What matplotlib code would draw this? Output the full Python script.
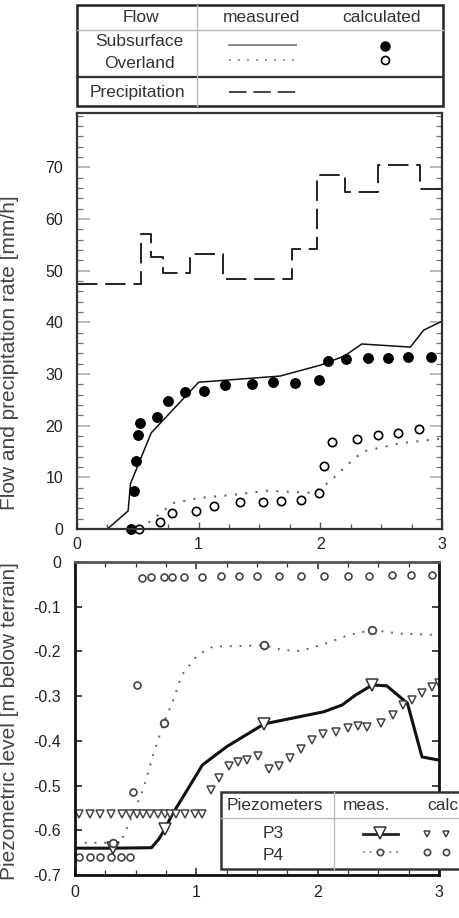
import matplotlib as mpl
mpl.use('Agg')

import matplotlib.pyplot as plt
from matplotlib.patches import Rectangle
from matplotlib.ticker import MultipleLocator

plt.rcParams['font.family'] = ['Liberation Sans', 'DejaVu Sans']

# ---- flow panel data (time in h, rates in mm/h) ----
precip_edges = [0.0, 0.53, 0.61, 0.71, 0.925, 1.2, 1.77, 1.97, 2.2, 2.47, 2.82, 3.0]
precip_rate = [47.5, 57.0, 52.7, 49.6, 53.3, 48.4, 54.1, 68.5, 65.3, 70.4, 65.7]

sub_meas_t = [0.25, 0.42, 0.44, 0.61, 1.0, 1.67, 2.0, 2.2, 2.34, 2.74, 2.85, 3.0]
sub_meas_q = [0.0, 3.5, 8.8, 18.6, 28.4, 29.6, 31.7, 33.5, 35.8, 35.2, 38.5, 40.2]

over_meas_t = [0.52, 0.63, 0.79, 1.0, 1.28, 1.56, 1.94, 2.08, 2.22, 2.35, 2.66, 3.0]
over_meas_q = [0.0, 2.0, 5.0, 6.0, 6.6, 7.4, 7.0, 9.2, 12.4, 15.0, 16.6, 17.5]

sub_calc_t = [0.445, 0.47, 0.485, 0.50, 0.52, 0.66, 0.75, 0.89, 1.04, 1.22, 1.44,
              1.61, 1.79, 1.99, 2.06, 2.21, 2.39, 2.56, 2.72, 2.91]
sub_calc_q = [0.0, 7.4, 13.2, 18.2, 20.6, 21.6, 24.7, 26.5, 26.8, 27.9, 28.1,
              28.4, 28.3, 28.8, 32.6, 32.8, 33.0, 33.0, 33.3, 33.3]

over_calc_t = [0.51, 0.68, 0.78, 0.975, 1.13, 1.34, 1.53, 1.68, 1.84, 1.99, 2.03,
               2.10, 2.30, 2.47, 2.64, 2.81]
over_calc_q = [0.0, 1.4, 3.0, 3.5, 4.5, 5.3, 5.3, 5.5, 5.6, 6.9, 12.2,
               16.9, 17.5, 18.2, 18.5, 19.3]

# ---- piezometer panel data (m below terrain) ----
p3_meas_t = [0.0, 0.31, 0.63, 0.69, 0.74, 0.80, 0.90, 1.05, 1.25, 1.56, 1.85, 2.05,
             2.20, 2.31, 2.45, 2.57, 2.74, 2.86, 3.0]
p3_meas_h = [-0.64, -0.64, -0.639, -0.62, -0.598, -0.565, -0.521, -0.454, -0.413, -0.362,
             -0.346, -0.335, -0.320, -0.298, -0.275, -0.277, -0.316, -0.436, -0.443]
p3_mark = [1, 4, 9, 14]

p4_meas_t = [0.0, 0.31, 0.40, 0.48, 0.56, 0.64, 0.73, 0.81, 0.88, 1.01, 1.14, 1.36,
             1.56, 1.71, 1.86, 2.07, 2.26, 2.45, 2.67, 2.97]
p4_meas_h = [-0.628, -0.628, -0.614, -0.562, -0.510, -0.435, -0.361, -0.309, -0.253,
             -0.208, -0.189, -0.188, -0.186, -0.197, -0.199, -0.182, -0.163, -0.152,
             -0.160, -0.163]
p4_mark = [1, 6, 12, 17]

p3_calc_t = [0.035, 0.12, 0.21, 0.30, 0.39, 0.45, 0.51, 0.56, 0.62, 0.68, 0.74, 0.78,
             0.83, 0.91, 0.99, 1.05, 1.12, 1.19, 1.27, 1.34, 1.42, 1.51, 1.60, 1.68,
             1.77, 1.86, 1.95, 2.04, 2.15, 2.25, 2.33, 2.41, 2.52, 2.62, 2.70, 2.78,
             2.86, 2.94, 3.0]
p3_calc_h = [-0.564, -0.564, -0.564, -0.564, -0.564, -0.564, -0.564, -0.564, -0.564,
             -0.564, -0.564, -0.564, -0.564, -0.564, -0.564, -0.564, -0.510, -0.482,
             -0.456, -0.447, -0.442, -0.433, -0.462, -0.456, -0.439, -0.418, -0.398,
             -0.385, -0.380, -0.372, -0.366, -0.368, -0.359, -0.342, -0.320, -0.309,
             -0.292, -0.279, -0.271]

p4_calc_t = [0.035, 0.12, 0.21, 0.30, 0.38, 0.45, 0.477, 0.51, 0.556, 0.63, 0.73, 0.80,
             0.90, 1.05, 1.20, 1.35, 1.50, 1.68, 1.86, 2.05, 2.25, 2.42, 2.61, 2.77, 2.94]
p4_calc_h = [-0.659, -0.659, -0.659, -0.659, -0.659, -0.659, -0.514, -0.275, -0.035,
             -0.034, -0.033, -0.033, -0.033, -0.033, -0.032, -0.032, -0.032, -0.032,
             -0.031, -0.031, -0.031, -0.031, -0.030, -0.030, -0.030]


def main():
    fig = plt.figure(figsize=(4.6, 9.18), dpi=100)

    # upper panel
    ax1 = fig.add_axes([77 / 460, 1 - 529 / 918, 365 / 460, 416 / 918])
    ax1.step(precip_edges, precip_rate + [precip_rate[-1]], where='post',
             color='#222222', lw=1.4, dashes=(10.5, 4))
    ax1.plot(sub_meas_t, sub_meas_q, color='#111111', lw=1.1)
    ax1.plot(over_meas_t, over_meas_q, color='#666666', lw=1.5, linestyle=(0, (1, 4)))
    ax1.plot(sub_calc_t, sub_calc_q, 'o', color='black', ms=6.8, clip_on=False)
    ax1.plot(over_calc_t, over_calc_q, 'o', mfc='white', mec='black', mew=1.2,
             ms=6.0, clip_on=False)
    ax1.set_xlim(0, 3)
    ax1.set_ylim(0, 80.5)
    ax1.set_yticks([0, 10, 20, 30, 40, 50, 60, 70])
    ax1.yaxis.set_minor_locator(MultipleLocator(2))
    ax1.set_xticks([0, 1, 2, 3])
    ax1.xaxis.set_minor_locator(MultipleLocator(0.25))
    ax1.tick_params(axis='y', which='major', direction='in', length=9, width=1.4,
                    color='#bbbbbb', left=True, right=True, labelsize=11.5,
                    labelcolor='#222222', pad=10)
    ax1.tick_params(axis='y', which='minor', direction='in', length=4.5, width=0.9,
                    color='#777777', left=True, right=True)
    ax1.tick_params(axis='x', which='major', direction='in', length=5, width=1,
                    color='#555555', labelsize=11.5, labelcolor='#222222', pad=6)
    ax1.tick_params(axis='x', which='minor', direction='in', length=3.5, width=0.9,
                    color='#555555')
    for s in ax1.spines.values():
        s.set_color('#333333')
        s.set_linewidth(1.6)
    ax1.set_ylabel('Flow and precipitation rate [mm/h]', fontsize=15, color='#444444')
    ax1.yaxis.set_label_coords(-0.158, 0.425)

    # lower panel
    ax2 = fig.add_axes([75 / 460, 1 - 875 / 918, 364 / 460, 313 / 918])
    ax2.plot(p3_meas_t, p3_meas_h, color='#111111', lw=2.2, marker='v',
             markevery=p3_mark, ms=9, mfc='white', mec='#333333', mew=1.1)
    ax2.plot(p4_meas_t, p4_meas_h, color='#666666', lw=1.4, linestyle=(0, (1, 4)),
             marker='o', markevery=p4_mark, ms=5.5, mfc='white', mec='#444444', mew=1.3)
    ax2.plot(p3_calc_t, p3_calc_h, 'v', ms=5.5, mfc='white', mec='#444444', mew=1.1)
    ax2.plot(p4_calc_t, p4_calc_h, 'o', ms=5, mfc='white', mec='#444444', mew=1.2)
    ax2.set_xlim(0, 3)
    ax2.set_ylim(-0.7, 0)
    ax2.set_yticks([0, -0.1, -0.2, -0.3, -0.4, -0.5, -0.6, -0.7])
    ax2.set_yticklabels(['0', '-0.1', '-0.2', '-0.3', '-0.4', '-0.5', '-0.6', '-0.7'])
    ax2.set_xticks([0, 1, 2, 3])
    ax2.xaxis.set_minor_locator(MultipleLocator(0.25))
    ax2.tick_params(axis='y', which='major', direction='in', length=5, width=1.2,
                    color='#222222', left=True, right=True, labelsize=11.5,
                    labelcolor='#222222', pad=10)
    ax2.tick_params(axis='x', which='major', direction='in', length=5, width=1.1,
                    color='#222222', top=True, labelsize=11.5, labelcolor='#222222',
                    pad=7)
    ax2.tick_params(axis='x', which='minor', direction='in', length=3.5, width=0.9,
                    color='#333333', top=True)
    for name, s in ax2.spines.items():
        s.set_color('#111111' if name != 'top' else '#555555')
        s.set_linewidth(2.0)
    ax2.set_ylabel('Piezometric level [m below terrain]', fontsize=15, color='#444444')
    ax2.yaxis.set_label_coords(-0.153, 0.492)

    # legend boxes drawn in pixel space
    ov = fig.add_axes([0, 0, 1, 1])
    ov.set_xlim(0, 460)
    ov.set_ylim(918, 0)
    ov.axis('off')
    ov.set_zorder(10)
    ov.patch.set_alpha(0)

    fs = 12.5
    ov.add_patch(Rectangle((77, 5), 366, 101, fc='white', ec='#222222', lw=1.8))
    ov.plot([77, 443], [30, 30], color='#bbbbbb', lw=1)
    ov.plot([77, 443], [77, 77], color='#333333', lw=1.6)
    ov.plot([197, 197], [5, 106], color='#bbbbbb', lw=1)
    ov.text(141, 17, 'Flow', ha='center', va='center', fontsize=fs, color='#333333')
    ov.text(261, 17, 'measured', ha='center', va='center', fontsize=fs, color='#333333')
    ov.text(382, 17, 'calculated', ha='center', va='center', fontsize=fs, color='#333333')
    ov.text(139, 41, 'Subsurface', ha='center', va='center', fontsize=fs, color='#333333')
    ov.text(139, 63, 'Overland', ha='center', va='center', fontsize=fs, color='#333333')
    ov.text(137, 93, 'Precipitation', ha='center', va='center', fontsize=fs,
            color='#333333')
    ov.plot([229, 296], [45, 45], color='#888888', lw=1.4)
    ov.plot([229, 296], [60, 60], color='#888888', lw=1.3, linestyle=(0, (1, 4)))
    ov.plot([229, 301], [92, 92], color='#444444', lw=1.4, dashes=(9, 3.5))
    ov.plot([385], [46], 'o', color='black', ms=6.5)
    ov.plot([385], [60], 'o', mfc='white', mec='black', mew=1.2, ms=5.8)

    ov.add_patch(Rectangle((221, 792), 260, 77, fc='white', ec='#333333', lw=1.8,
                           clip_on=False))
    ov.plot([221, 460], [818, 818], color='#bbbbbb', lw=1)
    ov.plot([334, 334], [792, 869], color='#bbbbbb', lw=1)
    ov.text(275, 806, 'Piezometers', ha='center', va='center', fontsize=fs,
            color='#333333')
    ov.text(343, 806, 'meas.', ha='left', va='center', fontsize=fs, color='#333333')
    ov.text(427, 806, 'calc.', ha='left', va='center', fontsize=fs, color='#333333')
    ov.text(273, 834, 'P3', ha='center', va='center', fontsize=fs, color='#333333')
    ov.text(273, 855, 'P4', ha='center', va='center', fontsize=fs, color='#333333')
    ov.plot([363, 398], [834, 834], color='#222222', lw=2)
    ov.plot([380], [833], 'v', ms=8, mfc='white', mec='#333333', mew=1.1)
    ov.plot([363, 398], [852, 852], color='#777777', lw=1.2, linestyle=(0, (1, 3)))
    ov.plot([380], [852], 'o', ms=4.5, mfc='white', mec='#444444', mew=1.2)
    ov.plot([427, 446, 465], [834, 834, 834], 'v', ms=5, mfc='white', mec='#444444',
            mew=1.1, clip_on=False)
    ov.plot([427, 446, 465], [852, 852, 852], 'o', ms=4.5, mfc='white', mec='#444444',
            mew=1.2, clip_on=False)

    fig.savefig('out.png', dpi=100)


if __name__ == '__main__':
    main()
